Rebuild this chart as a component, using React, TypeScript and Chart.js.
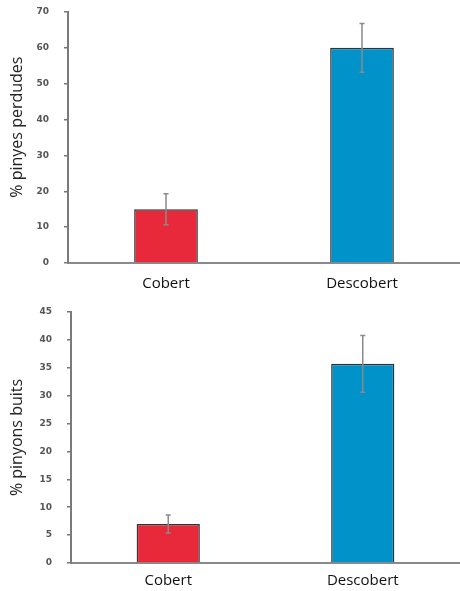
import React, { useEffect, useRef } from "react";
import { Chart, registerables } from "chart.js";

Chart.register(...registerables);

const categories = ["Cobert", "Descobert"];
const lostCones = [15, 60];
const lostConesErr = [4.3, 6.8];
const emptyNuts = [7, 35.7];
const emptyNutsErr = [1.6, 5.1];
const barColors = ["#E8293B", "#0092C8"];

const topAxis = { max: 70, step: 10, title: "\u00A0\u00A0\u00A0\u00A0\u00A0% pinyes perdudes" };
const bottomAxis = { max: 45, step: 5, title: "% pinyons buits" };

const errorBarPlugin = {
  id: "errorBars",
  afterDatasetsDraw(chart: any, _args: any, opts: any) {
    const errs: number[] = opts.errors || [];
    const vals: number[] = chart.data.datasets[0].data;
    const meta = chart.getDatasetMeta(0);
    const y = chart.scales.y;
    const ctx = chart.ctx;
    ctx.save();
    ctx.strokeStyle = "#8a8a8a";
    ctx.lineWidth = 1.5;
    meta.data.forEach((el: any, i: number) => {
      const x = el.x;
      const yt = y.getPixelForValue(vals[i] + errs[i]);
      const yb = y.getPixelForValue(vals[i] - errs[i]);
      ctx.beginPath();
      ctx.moveTo(x, yt);
      ctx.lineTo(x, yb);
      ctx.moveTo(x - 2.5, yt);
      ctx.lineTo(x + 2.5, yt);
      ctx.moveTo(x - 2.5, yb);
      ctx.lineTo(x + 2.5, yb);
      ctx.stroke();
    });
    ctx.restore();
  },
};

function BarChart(props: {
  values: number[];
  errors: number[];
  axis: { max: number; step: number; title: string };
  yWidth: number;
  xHeight: number;
  xPad: number;
  padTop: number;
  width: number;
  height: number;
}) {
  const ref = useRef<HTMLCanvasElement>(null);
  useEffect(() => {
    if (!ref.current) return;
    const chart = new Chart(ref.current, {
      type: "bar",
      data: {
        labels: categories,
        datasets: [
          {
            data: props.values,
            backgroundColor: barColors,
            borderColor: "#333",
            borderWidth: 1.5,
            barPercentage: 0.325,
            categoryPercentage: 1,
          },
        ],
      },
      options: {
        responsive: false,
        animation: false,
        layout: { padding: { top: props.padTop, left: 0, right: 0, bottom: 0 } },
        plugins: {
          legend: { display: false },
          tooltip: { enabled: false },
          errorBars: { errors: props.errors },
        } as any,
        scales: {
          x: {
            grid: { display: false },
            border: { display: true, color: "#8a8a8a", width: 2 },
            ticks: {
              color: "#111",
              padding: props.xPad,
              font: { family: "Open Sans", size: 15 },
            },
            afterFit: (s: any) => {
              s.height = props.xHeight;
              s.paddingLeft = 0;
              s.paddingRight = 0;
            },
          },
          y: {
            min: 0,
            max: props.axis.max,
            grid: {
              display: true,
              drawOnChartArea: false,
              drawTicks: true,
              tickLength: 4,
              color: "#777",
              lineWidth: 1.5,
            },
            border: { display: true, color: "#7a7a7a", width: 2 },
            ticks: {
              stepSize: props.axis.step,
              color: "#555",
              padding: 15,
              font: { family: "DejaVu Sans", size: 9, weight: "bold" },
            },
            title: {
              display: true,
              text: props.axis.title,
              color: "#222",
              padding: { top: 8, bottom: 0 },
              font: { family: "Open Sans", size: 16 },
            },
            afterFit: (s: any) => {
              s.width = props.yWidth;
              s.paddingTop = 0;
              s.paddingBottom = 0;
            },
          },
        },
      },
      plugins: [errorBarPlugin],
    });
    return () => chart.destroy();
  }, []);
  return <canvas ref={ref} width={props.width} height={props.height} style={{ display: "block" }} />;
}

export default function App() {
  return (
    <div style={{ position: "absolute", left: 0, top: 0, width: 460, height: 591, background: "#fff" }}>
      <div style={{ position: "absolute", left: 0, top: 0 }}>
        <BarChart
          values={lostCones}
          errors={lostConesErr}
          axis={topAxis}
          yWidth={68}
          xHeight={32}
          xPad={4}
          padTop={12}
          width={460}
          height={295}
        />
      </div>
      <div style={{ position: "absolute", left: 0, top: 295 }}>
        <BarChart
          values={emptyNuts}
          errors={emptyNutsErr}
          axis={bottomAxis}
          yWidth={71}
          xHeight={28}
          xPad={1}
          padTop={17}
          width={460}
          height={296}
        />
      </div>
    </div>
  );
}
